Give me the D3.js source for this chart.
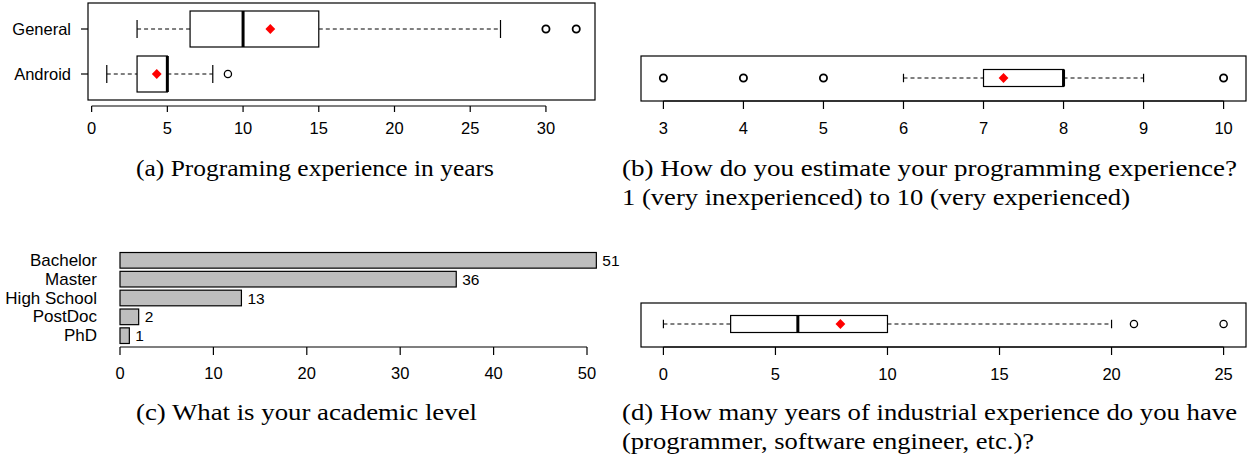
<!DOCTYPE html>
<html>
<head>
<meta charset="utf-8">
<script src="https://cdn.jsdelivr.net/npm/d3@7"></script>
<style>
	body { margin: 0; background: #fff; }
	svg { display: block; }
	.sans { font-family: "Liberation Sans", Arial, sans-serif; }
	.cap { font-family: "Times New Roman", "Liberation Serif", Times, serif; font-size: 23px; }
</style>
</head>
<body>
<svg id="chart" width="1255" height="461"></svg>
<script>
// (a) programming experience in years
var expGroups = ["General", "Android"];
var expStats = [
	{ lo: 3, q1: 6.5, med: 10, q3: 15, hi: 27, mean: 11.8, out: [30, 32] },
	{ lo: 1, q1: 3, med: 5, q3: 5, hi: 8, mean: 4.3, out: [9] }
];
var expTicks = [0, 5, 10, 15, 20, 25, 30];

// (b) self estimate 1..10
var estStats = { lo: 6, q1: 7, med: 8, q3: 8, hi: 9, mean: 7.25, out: [3, 4, 5, 10] };
var estTicks = [3, 4, 5, 6, 7, 8, 9, 10];

// (c) academic level
var levels = ["Bachelor", "Master", "High School", "PostDoc", "PhD"];
var levelCounts = [51, 36, 13, 2, 1];
var levelTicks = [0, 10, 20, 30, 40, 50];

// (d) industrial experience
var indStats = { lo: 0, q1: 3, med: 6, q3: 10, hi: 20, mean: 7.9, out: [21, 25] };
var indTicks = [0, 5, 10, 15, 20, 25];

var captions = [
	{ lines: ["(a) Programing experience in years"], x: 136, y: 176, w: [358] },
	{ lines: ["(b) How do you estimate your programming experience?", "1 (very inexperienced) to 10 (very experienced)"], x: 622, y: 176, w: [615, 508] },
	{ lines: ["(c) What is your academic level"], x: 136, y: 420, w: [341] },
	{ lines: ["(d) How many years of industrial experience do you have", "(programmer, software engineer, etc.)?"], x: 622, y: 420, w: [615, 412] }
];

var svg = d3.select("#chart");
var sansSize = 16.5;

var drawFrame = function(g, x0, x1, y0, y1)
{
	g.append("rect")
		.attr("x", x0).attr("y", y0)
		.attr("width", x1 - x0).attr("height", y1 - y0)
		.attr("fill", "none").attr("stroke", "#000").attr("stroke-width", 1.2);
};

var drawAxis = function(g, scale, ticks, y, tickLen, labelY)
{
	g.append("line")
		.attr("x1", scale(ticks[0])).attr("x2", scale(ticks[ticks.length - 1]))
		.attr("y1", y).attr("y2", y)
		.attr("stroke", "#000").attr("stroke-width", 1.2);
	ticks.forEach(function(t)
	{
		g.append("line")
			.attr("x1", scale(t)).attr("x2", scale(t))
			.attr("y1", y).attr("y2", y + tickLen)
			.attr("stroke", "#000").attr("stroke-width", 1.2);
		g.append("text").attr("class", "sans")
			.attr("x", scale(t)).attr("y", labelY)
			.attr("text-anchor", "middle").attr("font-size", sansSize)
			.text(t);
	});
};

var drawBox = function(g, scale, s, cy, half, strong)
{
	var sw = 1.2;
	// whiskers
	g.append("line")
		.attr("x1", scale(s.lo)).attr("x2", scale(s.q1)).attr("y1", cy).attr("y2", cy)
		.attr("stroke", "#000").attr("stroke-dasharray", "4,3");
	g.append("line")
		.attr("x1", scale(s.q3)).attr("x2", scale(s.hi)).attr("y1", cy).attr("y2", cy)
		.attr("stroke", "#000").attr("stroke-dasharray", "4,3");
	[s.lo, s.hi].forEach(function(v)
	{
		g.append("line")
			.attr("x1", scale(v)).attr("x2", scale(v))
			.attr("y1", cy - half / 2).attr("y2", cy + half / 2)
			.attr("stroke", "#000").attr("stroke-width", sw);
	});
	g.append("rect")
		.attr("x", scale(s.q1)).attr("y", cy - half)
		.attr("width", scale(s.q3) - scale(s.q1)).attr("height", 2 * half)
		.attr("fill", "#fff").attr("stroke", "#000").attr("stroke-width", sw);
	g.append("line")
		.attr("x1", scale(s.med)).attr("x2", scale(s.med))
		.attr("y1", cy - half).attr("y2", cy + half)
		.attr("stroke", "#000").attr("stroke-width", 3);
	s.out.forEach(function(v)
	{
		g.append("circle")
			.attr("cx", scale(v)).attr("cy", cy).attr("r", 3.6)
			.attr("fill", "none").attr("stroke", "#000").attr("stroke-width", strong ? 1.8 : 1.3);
	});
	g.append("path")
		.attr("d", d3.symbol().type(d3.symbolSquare).size(48)())
		.attr("transform", "translate(" + scale(s.mean) + "," + cy + ") rotate(45)")
		.attr("fill", "#f00");
};

// ---- (a)
var ga = svg.append("g");
var xa = d3.scaleLinear().domain([-0.24, 33.24]).range([88, 595]);
var ya = d3.scalePoint().domain(expGroups).range([29, 74]);
drawFrame(ga, 88, 595, 3, 100);
drawAxis(ga, xa, expTicks, 106, 6, 134);
expGroups.forEach(function(name, i)
{
	ga.append("line")
		.attr("x1", 81).attr("x2", 88).attr("y1", ya(name)).attr("y2", ya(name))
		.attr("stroke", "#000").attr("stroke-width", 1.2);
	ga.append("text").attr("class", "sans")
		.attr("x", 71).attr("y", ya(name) + 6)
		.attr("text-anchor", "end").attr("font-size", sansSize)
		.text(name);
	drawBox(ga, xa, expStats[i], ya(name), 18, i == 0);
});

// ---- (b)
var gb = svg.append("g");
var xb = d3.scaleLinear().domain([2.72, 10.28]).range([641, 1246]);
drawFrame(gb, 641, 1246, 56, 101);
drawAxis(gb, xb, estTicks, 101, 8, 134);
drawBox(gb, xb, estStats, 78, 8.5, true);

// ---- (c)
var gc = svg.append("g");
var xc = d3.scaleLinear().domain([0, 50]).range([120, 587]);
var yc = d3.scaleBand().domain(levels).range([251, 345]).paddingInner(0.17).paddingOuter(0.08);
gc.selectAll("rect.bar").data(levels).enter().append("rect")
	.attr("class", "bar")
	.attr("x", xc(0)).attr("y", function(d) { return yc(d); })
	.attr("width", function(d, i) { return xc(levelCounts[i]) - xc(0); })
	.attr("height", yc.bandwidth())
	.attr("fill", "#bebebe").attr("stroke", "#000").attr("stroke-width", 1.2);
gc.selectAll("text.cat").data(levels).enter().append("text")
	.attr("class", "sans cat")
	.attr("x", 97).attr("y", function(d) { return yc(d) + yc.bandwidth() / 2 + 5.5; })
	.attr("text-anchor", "end").attr("font-size", 17)
	.text(function(d) { return d; });
gc.selectAll("text.val").data(levels).enter().append("text")
	.attr("class", "sans val")
	.attr("x", function(d, i) { return xc(levelCounts[i]) + 6; })
	.attr("y", function(d) { return yc(d) + yc.bandwidth() / 2 + 5.5; })
	.attr("font-size", 15.5)
	.text(function(d, i) { return levelCounts[i]; });
drawAxis(gc, xc, levelTicks, 347, 8, 379);

// ---- (d)
var gd = svg.append("g");
var xd = d3.scaleLinear().domain([-1, 26]).range([641, 1246]);
drawFrame(gd, 641, 1246, 303, 347);
drawAxis(gd, xd, indTicks, 347, 8, 380);
drawBox(gd, xd, indStats, 324, 8.5, false);

// ---- captions
captions.forEach(function(c)
{
	c.lines.forEach(function(line, i)
	{
		svg.append("text").attr("class", "cap")
			.attr("x", c.x).attr("y", c.y + i * 29)
			.attr("textLength", c.w[i]).attr("lengthAdjust", "spacingAndGlyphs")
			.text(line);
	});
});
</script>
</body>
</html>
